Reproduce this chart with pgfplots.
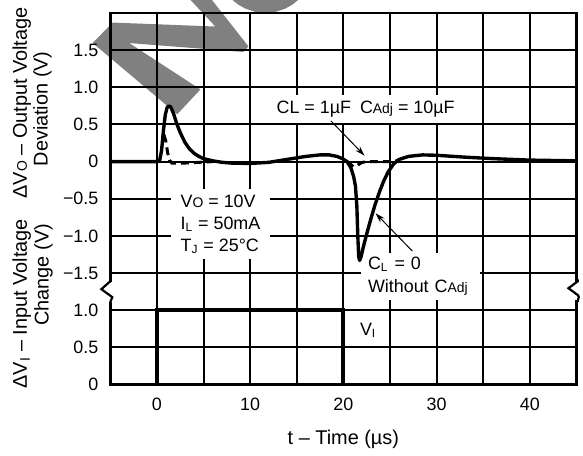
\documentclass[border=0pt]{standalone}
\usepackage{fontspec}
\setmainfont{Liberation Sans}
\usepackage{pgfplots}
\pgfplotsset{compat=1.18}
\usetikzlibrary{arrows.meta}
\newcommand{\sm}[1]{{\fontsize{7}{8}\selectfont #1}}
\begin{document}
\begin{tikzpicture}[font=\fontsize{9}{11}\selectfont]
% grey watermark, pixel coordinates of the reference
\begin{scope}[shift={(-55.5pt,193.5pt)},x=0.5pt,y=-0.5pt]
\fill[black!50] (191.7,0) -- (213.3,0) -- (250,46.7) -- (245,52.3) -- (130,43.3)
  -- (201.7,90) -- (178.3,115) -- (93.3,43.3) -- (113.3,22.7) -- (216.7,26.7) -- cycle;
\fill[black!50] (234,0) -- (240,4.8) -- (247,8.7) -- (257,12) -- (267,13) -- (277,12)
  -- (287,8.7) -- (294,4.8) -- (300,0) -- cycle;
\end{scope}
\begin{axis}[
  scale only axis,
  width=234.5pt, height=187pt,
  xmin=-5, xmax=45, ymin=-3, ymax=2,
  xtick={-5,0,5,10,15,20,25,30,35,40,45},
  xticklabels={,0,,10,,20,,30,,40,},
  ytick={-3,-2.5,-2,-1.5,-1,-0.5,0,0.5,1,1.5},
  yticklabels={0,0.5,1.0,−1.5,−1.0,−0.5,0,0.5,1.0,1.5},
  grid=major,
  major grid style={draw=black, line width=1pt},
  major tick length=0pt,
  axis line style={line width=1.2pt},
  /pgf/number format/assume math mode=true,
  tick label style={font=\fontsize{9}{11}\selectfont},
  xticklabel style={anchor=base, yshift=-13.25pt},
  yticklabel style={anchor=east, xshift=-2.5pt},
  xlabel={t – Time (µs)},
  every axis x label/.style={at={(axis description cs:0.5,0)}, anchor=center, yshift=-27.5pt,
    font=\fontsize{10}{12}\selectfont},
  clip=false,
]
% white label boxes
\node[fill=white, align=left, inner xsep=5pt, inner ysep=3pt] at (axis cs:6.82,-0.84)
  {V\sm{O} = 10V\\I\textsubscript{L} = 50mA\\T\textsubscript{J} = 25°C};
\node[fill=white, inner xsep=2pt, inner ysep=3pt] at (axis cs:22.39,0.709)
  {CL = 1µF\enspace C\sm{Adj} = 10µF};
\node[fill=white, anchor=north west, align=left, text width=53pt, inner xsep=3.5pt, inner ysep=2pt,
  font=\fontsize{9}{11.5}\selectfont] at (axis cs:21.86,-1.23)
  {C\textsubscript{L} = 0\\Without C\sm{Adj}};
\node[anchor=west, inner sep=0pt] at (axis cs:21.75,-2.27) {V\textsubscript{I}};

% C_L = 0, without C_Adj
\addplot[black, line width=1.7pt, line join=round] coordinates {
(-5,0) (0,0) (0.3,0.02) (0.5,0.15) (0.7,0.42) (0.9,0.63) (1.1,0.73) (1.3,0.75) (1.5,0.73)
(1.8,0.64) (2.1,0.52) (2.5,0.39) (3.0,0.26) (3.5,0.17) (4.0,0.11) (4.5,0.07) (5.0,0.04)
(6,0.01) (7,-0.01) (8,-0.02) (10,-0.025) (12,-0.01) (14,0.03) (16,0.07) (17.5,0.09)
(18.5,0.09) (19.3,0.07) (19.9,0.04) (20.4,0.0) (20.8,-0.08) (21.1,-0.2) (21.3,-0.33)
(21.45,-0.6) (21.55,-1.0) (21.65,-1.28) (21.75,-1.33) (21.9,-1.28) (22.2,-1.12)
(22.6,-0.93) (23.0,-0.75) (23.4,-0.58) (23.9,-0.4) (24.3,-0.27) (24.8,-0.14) (25.4,-0.03)
(26,0.03) (27,0.07) (28.5,0.09) (30,0.085) (33,0.06) (36,0.04) (40,0.02) (45,0.01)
};
% C_L = 1uF, C_Adj = 10uF
\addplot[black, line width=1.5pt, dash pattern=on 4pt off 2.5pt] coordinates {
(0.65,0.33) (0.8,0.34) (0.95,0.28) (1.15,0.12) (1.35,0.02) (1.6,-0.02) (3,-0.02) (4.5,-0.01) (6,0.0)
};
\addplot[black, line width=1.5pt, dash pattern=on 4pt off 2.5pt] coordinates {
(20.4,0.0) (20.8,-0.04) (21.1,-0.07) (21.5,-0.05) (22,-0.01) (23,0.0) (25.4,0.0) (25.9,0.02)
};
% input step V_I (lower scale shifted by -3)
\addplot[black, line width=1.9pt, line join=miter] coordinates {
(-5,-3) (0,-3) (0,-2) (20,-2) (20,-3) (45,-3)
};

\draw[-{Stealth[length=5pt,width=3pt]}, line width=0.5pt] (axis cs:18.66,0.548) -- (axis cs:22.28,0.08);
\draw[-{Stealth[length=5pt,width=3pt]}, line width=0.5pt] (axis cs:27.4,-1.203) -- (axis cs:23.45,-0.695);

% y labels
\begin{scope}[font=\fontsize{10}{12}\selectfont]
\node[rotate=90, anchor=base, inner sep=0pt] at (axis cs:-13.96,0.789) {ΔV\sm{O} – Output Voltage};
\node[rotate=90, anchor=base, inner sep=0pt] at (axis cs:-11.72,0.709) {Deviation (V)};
\node[rotate=90, anchor=base, inner sep=0pt] at (axis cs:-13.96,-1.912) {ΔV\textsubscript{I} – Input Voltage};
\node[rotate=90, anchor=base, inner sep=0pt] at (axis cs:-11.62,-1.524) {Change (V)};
\end{scope}
\end{axis}
% axis break marks, pixel coordinates
\begin{scope}[shift={(-55.5pt,193.5pt)},x=0.5pt,y=-0.5pt]
\draw[white, line width=3pt] (111,284) -- (111,304);
\draw[line width=1.1pt, line join=miter] (111,281) -- (111,283) -- (102,291) -- (113,299) -- (111,304) -- (111,306);
\draw[white, line width=3pt] (581.5,284) -- (581.5,302);
\draw[line width=1.1pt, line join=miter] (581.5,281) -- (581.5,283) -- (572,290) -- (581.5,297) -- (582.5,299) -- (581.5,302) -- (581.5,304);
\path (0,0) (583,452);
\end{scope}
\end{tikzpicture}
\end{document}
